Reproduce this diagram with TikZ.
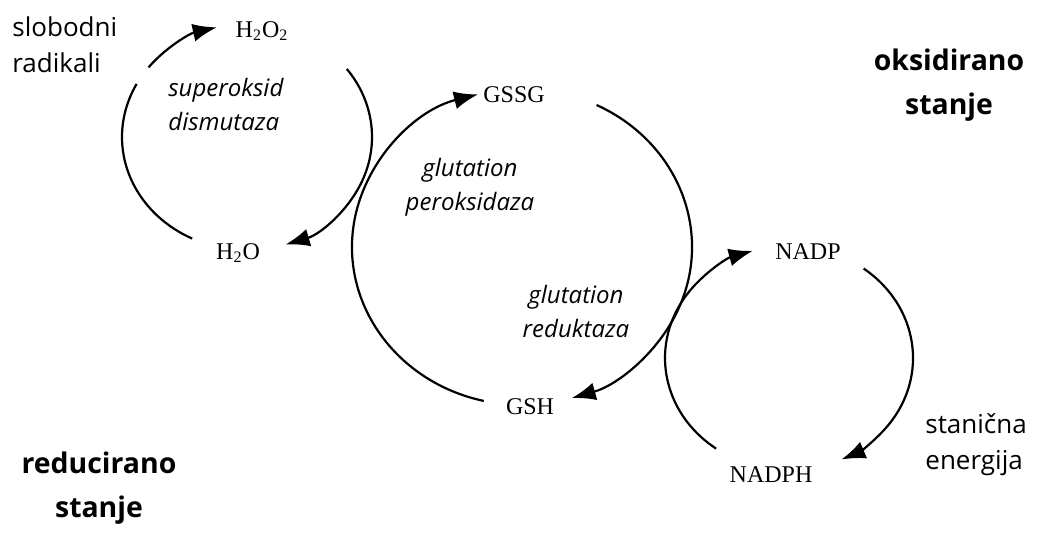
\documentclass[tikz,border=0pt]{standalone}
\usepackage{fontspec}
\setmainfont{Liberation Serif}
\newfontfamily\comic{Open Sans}
\usetikzlibrary{arrows.meta}
\begin{document}
\begin{tikzpicture}[x=0.5pt,y=0.5pt,
  cyc/.style={line width=1.1pt,black},
  arr/.style={cyc,-{Latex[length=12pt,width=9pt]}},
  chem/.style={font=\fontsize{12}{14}\selectfont, inner sep=0pt},
  enz/.style={font=\comic\itshape\fontsize{12}{17}\selectfont, inner sep=0pt},
  lab/.style={font=\comic\fontsize{13}{18}\selectfont, inner sep=0pt},
  state/.style={font=\comic\bfseries\fontsize{14.2}{22}\selectfont, inner sep=0pt, align=center}]
\useasboundingbox (0,0) rectangle (1037,-533);
% centres
\coordinate (c1) at (247,-137);
\coordinate (c2) at (522,-247);
\coordinate (c3) at (789,-358);
% cycle 1
\draw[cyc] (c1) ++(244:125 and 113) arc[start angle=244,end angle=152,x radius=125,y radius=113];
\draw[arr] (c1) ++(142:125 and 113) arc[start angle=142,end angle=104,x radius=125,y radius=113];
\draw[arr] (c1) ++(37:125 and 113) arc[start angle=37,end angle=-72,x radius=125,y radius=113];
% cycle 2
\draw[arr] (c2) ++(257:170 and 158) arc[start angle=257,end angle=105,x radius=170,y radius=158];
\draw[arr] (c2) ++(64:170 and 158) arc[start angle=64,end angle=-73,x radius=170,y radius=158];
% cycle 3
\draw[arr] (c3) ++(234:124 and 112) arc[start angle=234,end angle=107,x radius=124,y radius=112];
\draw[arr] (c3) ++(53:124 and 112) arc[start angle=53,end angle=-65,x radius=124,y radius=112];
% chemical labels
\node[chem] (h2o2) at (262,-31) {H\textsubscript{2}O\textsubscript{2}};
\node[chem] (h2o) at (238,-253) {H\textsubscript{2}O};
\node[chem] (gssg) at (514,-95) {GSSG};
\node[chem] (gsh) at (530,-407) {GSH};
\node[chem] (nadp) at (808,-252) {NADP};
\node[chem] (nadph) at (771,-475) {NADPH};
% enzymes
\node[enz, align=left, anchor=west] (sod) at (168,-105) {superoksid\\dismutaza};
\node[enz, align=center] (gpx) at (470,-187) {glutation\\peroksidaza};
\node[enz, align=center] (gr) at (576,-312) {glutation\\reduktaza};
% other labels
\node[lab, align=left, anchor=west] (rad) at (12,-45) {slobodni\\radikali};
\node[lab, align=left, anchor=west] (en) at (925,-445) {stanična\\energija};
\node[state] (ox) at (949,-85) {oksidirano\\stanje};
\node[state] (red) at (99,-488) {reducirano\\stanje};
\end{tikzpicture}
\end{document}
